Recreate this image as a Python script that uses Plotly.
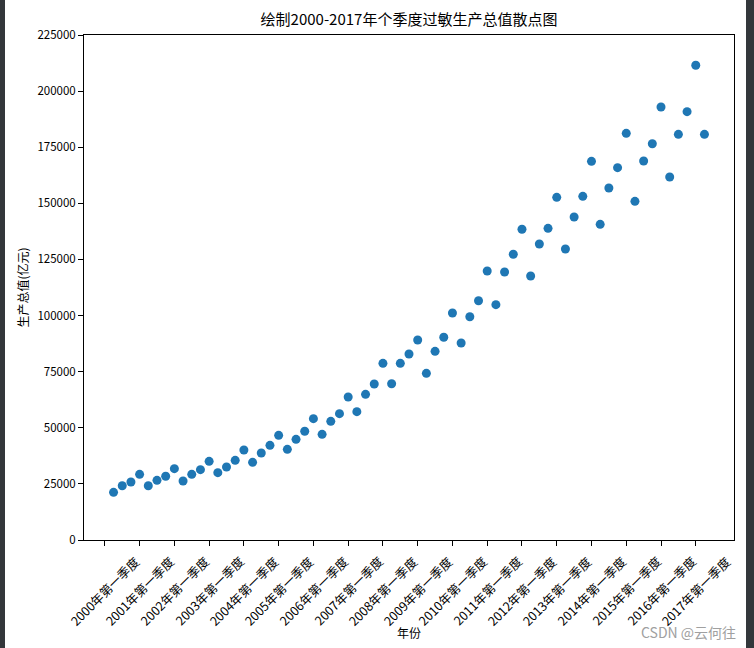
import plotly.graph_objects as go

# quarter index (1 = 2000 Q1 ... 69 = 2017 Q1)
quarters = list(range(1, 70))
gdp = [
    21250, 24190, 25840, 29270, 24190, 26590, 28380, 31770, 26290, 29270,
    31330, 35060, 29990, 32520, 35500, 40100, 34610, 38760, 42180, 46640,
    40400, 44860, 48430, 54050, 47080, 52880, 56280, 63710, 57170, 64910,
    69500, 78720, 69640, 78720, 82870, 89110, 74270, 84070, 90310, 101140,
    87770, 99490, 106620, 119850, 104840, 119400, 127290, 138430, 117620, 131880,
    138870, 152680, 129650, 143910, 153130, 168720, 140650, 156830, 165880, 181200,
    150900, 168860, 176570, 192920, 161730, 180750, 190830, 211500, 180750,
]
tick_pos = list(range(0, 70, 4))
tick_labels = [f"{y}年第一季度" for y in range(2000, 2018)]
y_ticks = list(range(0, 225001, 25000))

FONT = "Noto Sans CJK SC"
L, R, T, B = 84, 20, 35, 108
W, H = 754, 648
pw = W - L - R
ph = H - T - B


def py(pix):
    """pixel row -> paper y"""
    return (H - B - pix) / ph


def px(pix):
    return (pix - L) / pw


fig = go.Figure()
fig.add_trace(go.Scatter(
    x=quarters, y=gdp, mode="markers",
    marker=dict(size=9, color="#1f77b4", line=dict(width=0)),
    showlegend=False,
))

fig.update_layout(
    width=W, height=H,
    margin=dict(l=L, r=R, t=T, b=B),
    paper_bgcolor="white", plot_bgcolor="white",
    font=dict(family=FONT, size=12, color="black"),
    title=dict(text="绘制2000-2017年个季度过敏生产总值散点图",
               x=(L + pw / 2) / W, xanchor="center", y=1 - 20 / H, yanchor="middle",
               font=dict(size=15, color="black")),
    xaxis=dict(range=[-2.4, 72.4], tickvals=tick_pos, showticklabels=False,
               ticks="outside", ticklen=5, tickcolor="black",
               showline=True, mirror=True, linecolor="black", linewidth=1,
               showgrid=False, zeroline=False),
    yaxis=dict(range=[0, 225000], tickvals=y_ticks, ticktext=[str(v) for v in y_ticks],
               ticks="outside", ticklen=5, tickcolor="black",
               showline=True, mirror=True, linecolor="black", linewidth=1,
               showgrid=False, zeroline=False, tickfont=dict(size=11.5),
               title=dict(text="生产总值(亿元)", font=dict(size=12), standoff=6)),
)

# rotated tick labels centred on the tick (matplotlib rotation=45 style)
for pos, lab in zip(tick_pos, tick_labels):
    fig.add_annotation(text=lab, x=pos, xref="x", y=py(550), yref="paper",
                       xanchor="center", yanchor="top", textangle=-45,
                       showarrow=False, font=dict(size=12.5, color="black"),
                       borderpad=0)

# x axis title
fig.add_annotation(text="年份", x=0.5, xref="paper", y=py(632), yref="paper",
                   xanchor="center", yanchor="middle", showarrow=False,
                   font=dict(size=12, color="black"))

# dark screenshot frame at left and right edges
fig.add_shape(type="rect", xref="paper", yref="paper",
              x0=px(0), x1=px(5), y0=py(H), y1=py(0),
              fillcolor="#33373b", line=dict(width=0), layer="above")
fig.add_shape(type="rect", xref="paper", yref="paper",
              x0=px(746), x1=px(W), y0=py(H), y1=py(0),
              fillcolor="#33373b", line=dict(width=0), layer="above")

fig.add_annotation(text="CSDN @云何往", xref="paper", yref="paper",
                   x=px(738), xanchor="right", y=py(632), yanchor="middle",
                   showarrow=False, font=dict(size=14, color="#a0a0a0"))

fig.write_html("out.html")
